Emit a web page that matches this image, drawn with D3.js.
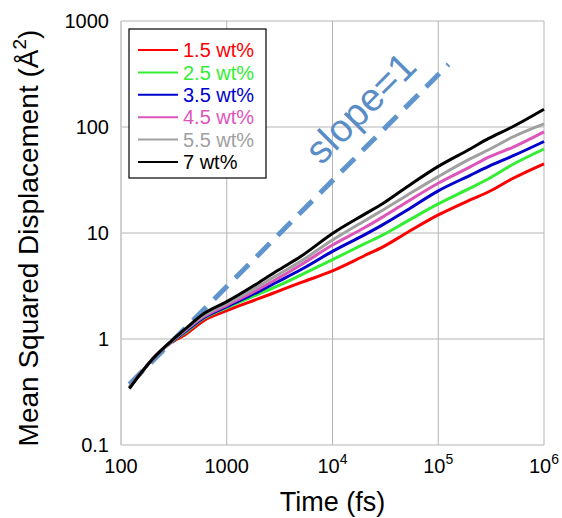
<!DOCTYPE html>
<html>
<head>
<meta charset="utf-8">
<script src="https://cdn.jsdelivr.net/npm/d3@7"></script>
<style>
  body { margin: 0; background: #fff; }
  text { font-family: "Liberation Sans", Arial, sans-serif; }
</style>
</head>
<body>
<div id="chart"></div>
<script>
// time points (fs) and MSD values (Å^2)
let times = [120, 150, 200, 300, 400, 600, 1000, 2000, 3000, 5000, 10000, 20000, 30000, 50000, 100000, 200000, 300000, 500000, 1000000];
let msd15 = [0.35, 0.46, 0.65, 0.93, 1.09, 1.48, 1.85, 2.4, 2.8, 3.4, 4.4, 6.1, 7.4, 10, 14.8, 20.5, 24.5, 32.5, 45];
let msd25 = [0.35, 0.46, 0.65, 0.94, 1.14, 1.55, 1.97, 2.65, 3.15, 4.0, 5.6, 7.9, 9.6, 12.8, 18.8, 26.5, 32.5, 44, 62];
let msd35 = [0.35, 0.46, 0.65, 0.94, 1.16, 1.58, 2.02, 2.8, 3.45, 4.5, 6.7, 9.6, 12, 16.3, 25, 35, 42.5, 53, 73];
let msd45 = [0.35, 0.46, 0.65, 0.95, 1.19, 1.62, 2.08, 2.95, 3.7, 5.0, 7.7, 11.2, 14.2, 19.5, 29.5, 42, 52, 64, 90];
let msd55 = [0.35, 0.46, 0.65, 0.95, 1.21, 1.66, 2.15, 3.15, 4.0, 5.4, 8.6, 13, 16.5, 22.5, 34, 50, 61, 80, 107];
let msd70 = [0.34, 0.46, 0.65, 0.96, 1.23, 1.72, 2.25, 3.4, 4.4, 6.0, 9.9, 15, 19, 27, 42.5, 62, 78, 100, 147];
let seriesNames = ["1.5 wt%", "2.5 wt%", "3.5 wt%", "4.5 wt%", "5.5 wt%", "7 wt%"];
let seriesColors = ["#ff0000", "#33ee33", "#0000cc", "#dd55bb", "#a0a0a0", "#000000"];
let allSeries = [msd15, msd25, msd35, msd45, msd55, msd70];

// reference line slope = 1: msd = k * t
let slopeTimes = [120, 125000];
let slopeK = 0.00312;

let xTicks = [100, 1000, 10000, 100000, 1000000];
let yTicks = [0.1, 1, 10, 100, 1000];

let width = 562, height = 518;
let margin = { top: 21, right: 18, bottom: 73, left: 121 };
let plotW = width - margin.left - margin.right;
let plotH = height - margin.top - margin.bottom;

let svg = d3.select("#chart").append("svg")
    .attr("width", width)
    .attr("height", height);

let x = d3.scaleLog().domain([100, 1e6]).range([0, plotW]);
let y = d3.scaleLog().domain([0.1, 1000]).range([plotH, 0]);

let g = svg.append("g")
    .attr("transform", "translate(" + margin.left + "," + margin.top + ")");

// grid
g.selectAll(".vgrid")
    .data(xTicks)
    .enter().append("line")
    .attr("x1", d => x(d)).attr("x2", d => x(d))
    .attr("y1", 0).attr("y2", plotH)
    .attr("stroke", "#b4b4b4").attr("stroke-width", 1);
g.selectAll(".hgrid")
    .data(yTicks)
    .enter().append("line")
    .attr("x1", 0).attr("x2", plotW)
    .attr("y1", d => y(d)).attr("y2", d => y(d))
    .attr("stroke", "#b4b4b4").attr("stroke-width", 1);
g.append("line")
    .attr("x1", 0).attr("x2", 0).attr("y1", 0).attr("y2", plotH)
    .attr("stroke", "#d0d0d0").attr("stroke-width", 2);

// y tick labels
g.selectAll(".ylab")
    .data(yTicks)
    .enter().append("text")
    .attr("x", -12)
    .attr("y", d => y(d))
    .attr("dy", "0.36em")
    .attr("text-anchor", "end")
    .attr("font-size", 20)
    .text(d => d3.format("~g")(d));

// x tick labels
let xl = g.selectAll(".xlab")
    .data(xTicks)
    .enter().append("text")
    .attr("x", d => x(d))
    .attr("y", plotH + 28)
    .attr("text-anchor", "middle")
    .attr("font-size", 20);
xl.each(function (d) {
    let t = d3.select(this);
    if (d < 10000) {
        t.text(d);
    } else {
        t.append("tspan").text("10");
        t.append("tspan").attr("font-size", 14).attr("dy", -9).text(Math.round(Math.log10(d)));
    }
});

// slope = 1 line
let line = d3.line()
    .x(d => x(d[0]))
    .y(d => y(d[1]));
g.append("path")
    .datum(slopeTimes.map(t => [t, slopeK * t]))
    .attr("d", line)
    .attr("fill", "none")
    .attr("stroke", "#5f95cc")
    .attr("stroke-width", 5)
    .attr("stroke-dasharray", "19,11");

// series
let curve = d3.line()
    .x(d => x(d[0]))
    .y(d => y(d[1]))
    .curve(d3.curveMonotoneX);
allSeries.forEach(function (vals, i) {
    g.append("path")
        .datum(times.map((t, j) => [t, vals[j]]))
        .attr("d", curve)
        .attr("fill", "none")
        .attr("stroke", seriesColors[i])
        .attr("stroke-width", 3)
        .attr("stroke-linejoin", "round");
});

// slope label, centred from its own box
let midT = 20000;
let slopeLabel = g.append("text")
    .attr("font-family", "Lato, 'Open Sans', sans-serif")
    .attr("font-size", 39)
    .attr("fill", "#5a8cc6")
    .text("slope=1");
let bb = slopeLabel.node().getBBox();
let cx = x(midT) - 4, cy = y(slopeK * midT) - 41;
slopeLabel.attr("transform", "translate(" + cx + "," + cy + ") rotate(-45) translate("
    + (-(bb.x + bb.width / 2)) + "," + (-(bb.y + bb.height / 2)) + ")");

// legend
let legend = svg.append("g").attr("transform", "translate(129,29)");
legend.append("rect")
    .attr("width", 137).attr("height", 149)
    .attr("fill", "#fff").attr("stroke", "#000").attr("stroke-width", 1.2);
let rows = legend.selectAll(".row")
    .data(seriesNames)
    .enter().append("g")
    .attr("transform", (d, i) => "translate(0," + (21 + i * 22.4) + ")");
rows.append("line")
    .attr("x1", 9).attr("x2", 49)
    .attr("stroke", (d, i) => seriesColors[i])
    .attr("stroke-width", 2);
rows.append("text")
    .attr("x", 54)
    .attr("dy", "0.36em")
    .attr("font-size", 20)
    .attr("fill", (d, i) => seriesColors[i])
    .text(d => d);

// axis titles
svg.append("text")
    .attr("x", margin.left + plotW / 2)
    .attr("y", 511)
    .attr("text-anchor", "middle")
    .attr("font-size", 27)
    .text("Time (fs)");
let yt = svg.append("text")
    .attr("transform", "translate(38,238) rotate(-90)")
    .attr("text-anchor", "middle")
    .attr("font-size", 28);
yt.append("tspan").text("Mean Squared Displacement (Å");
yt.append("tspan").attr("font-size", 19).attr("dy", -12).text("2");
yt.append("tspan").attr("dy", 12).text(")");
</script>
</body>
</html>
